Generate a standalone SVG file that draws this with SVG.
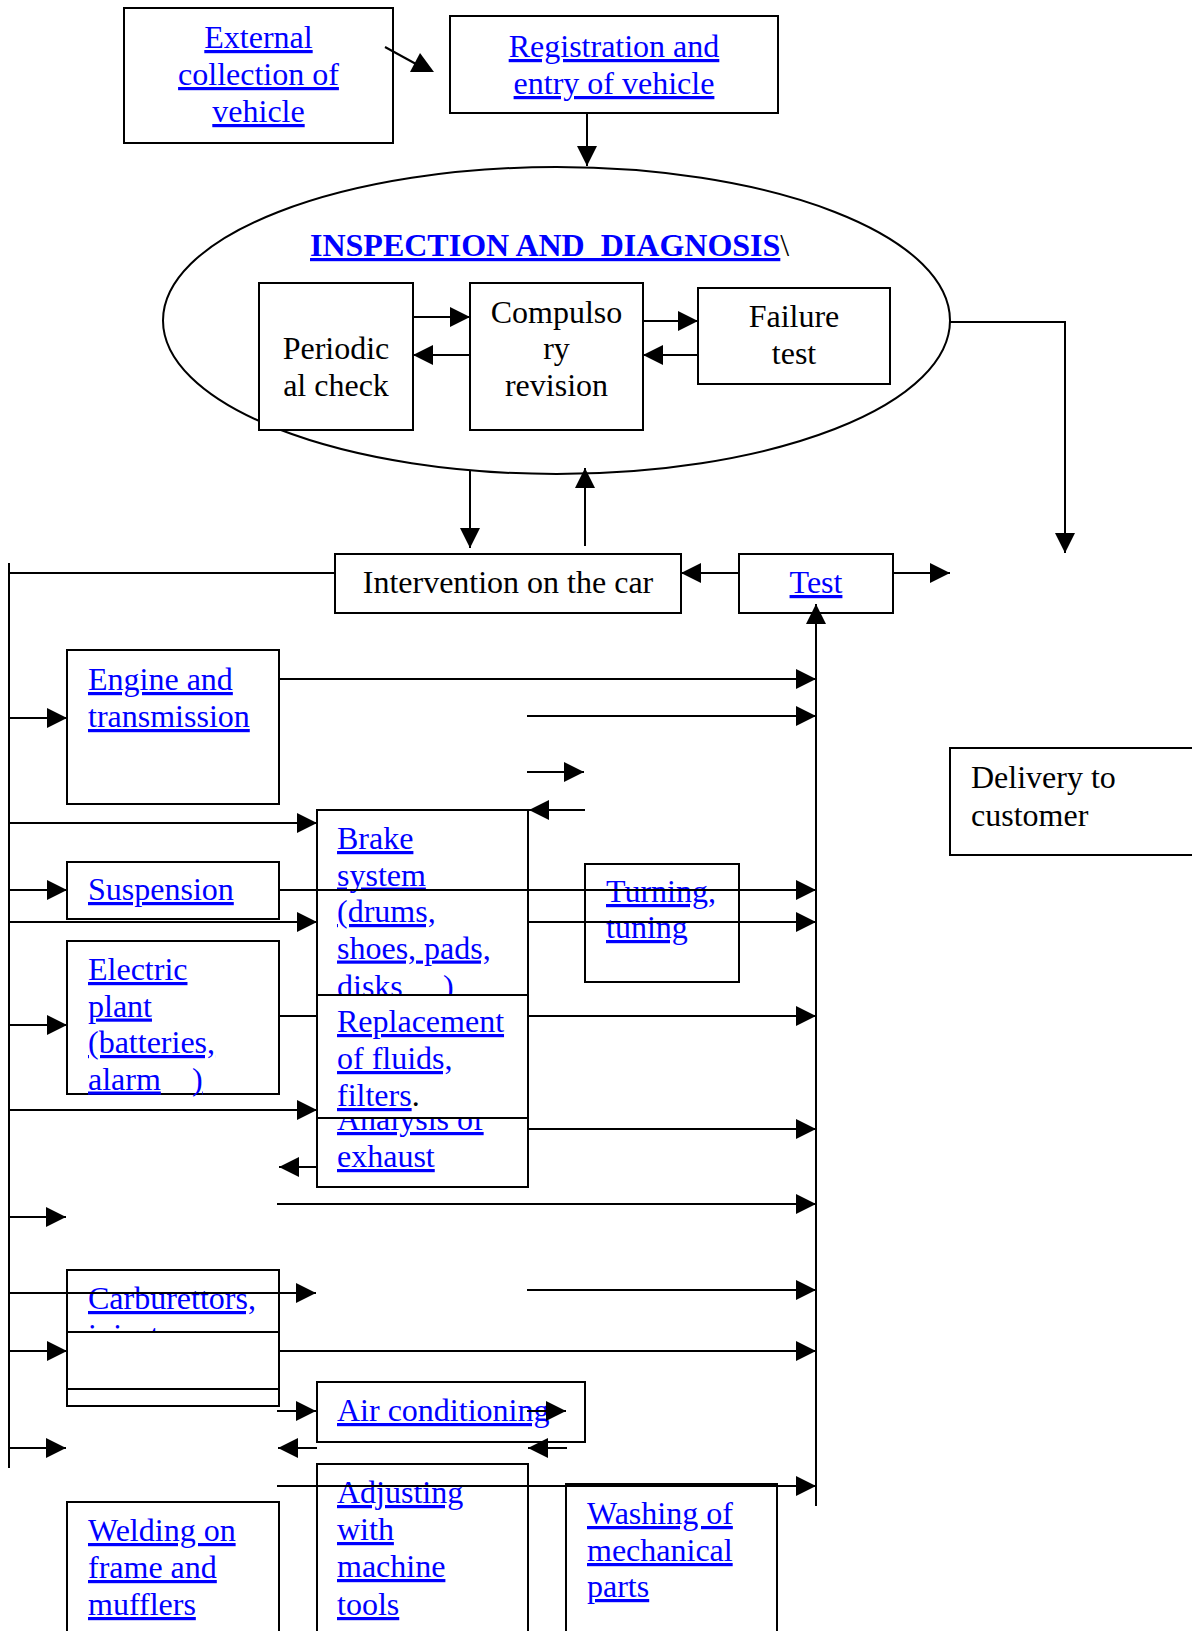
<svg xmlns="http://www.w3.org/2000/svg" width="1192" height="1631" viewBox="0 0 1192 1631">
<style>
.box{fill:#fff;stroke:#000;stroke-width:2}
.t{font-family:"Liberation Serif","Times New Roman",serif;font-size:32px;fill:#000}
.l{font-family:"Liberation Serif","Times New Roman",serif;font-size:32px;fill:#0000ff;text-decoration:underline}
.m{text-anchor:middle}
#connectors line,#connectors polyline{stroke:#000;stroke-width:2;fill:none}
</style>
<defs>
<marker id="ah" markerUnits="userSpaceOnUse" markerWidth="20" markerHeight="20" refX="20" refY="10" orient="auto">
<path d="M0,0 L20,10 L0,20 Z" fill="#000"/>
</marker>
<clipPath id="clipBrake"><rect x="317" y="810" width="211" height="185"/></clipPath>
<clipPath id="clipAnalysis"><rect x="317" y="1118" width="211" height="69"/></clipPath>
<clipPath id="clipCarb"><rect x="67" y="1270" width="212" height="62"/></clipPath>
</defs>
<rect width="1192" height="1631" fill="#fff"/>

<g id="nodes">
<g id="external">
<rect class="box" x="124" y="8" width="269" height="135"/>
<text class="l m" x="258.5" y="48">External</text>
<text class="l m" x="258.5" y="85">collection of</text>
<text class="l m" x="258.5" y="122">vehicle</text>
</g>
<g id="registration">
<rect class="box" x="450" y="16" width="328" height="97"/>
<text class="l m" x="614" y="57">Registration and</text>
<text class="l m" x="614" y="94">entry of vehicle</text>
</g>
<g id="inspection">
<ellipse cx="556.5" cy="320.5" rx="393.5" ry="153.5" fill="#fff" stroke="#000" stroke-width="2"/>
<text x="310" y="256" style="font-family:'Liberation Serif','Times New Roman',serif;font-size:32px;font-weight:bold;white-space:pre"><tspan fill="#0000ff" style="text-decoration:underline">INSPECTION AND  DIAGNOSIS</tspan><tspan fill="#000" style="font-weight:normal">\</tspan></text>
</g>
<g id="periodic">
<rect class="box" x="259" y="283" width="154" height="147"/>
<text class="t m" x="336" y="359">Periodic</text>
<text class="t m" x="336" y="396">al check</text>
</g>
<g id="compulsory">
<rect class="box" x="470" y="283" width="173" height="147"/>
<text class="t m" x="556.5" y="323">Compulso</text>
<text class="t m" x="556.5" y="359">ry</text>
<text class="t m" x="556.5" y="396">revision</text>
</g>
<g id="failure">
<rect class="box" x="698" y="288" width="192" height="96"/>
<text class="t m" x="794" y="327">Failure</text>
<text class="t m" x="794" y="364">test</text>
</g>
<g id="intervention">
<rect class="box" x="335" y="554" width="346" height="59"/>
<text class="t m" x="508" y="593">Intervention on the car</text>
</g>
<g id="test">
<rect class="box" x="739" y="554" width="154" height="59"/>
<text class="l m" x="816" y="593">Test</text>
</g>
<g id="delivery">
<rect class="box" x="950" y="748" width="250" height="107"/>
<text class="t" x="971" y="788">Delivery to</text>
<text class="t" x="971" y="826">customer</text>
</g>
<g id="engine">
<rect class="box" x="67" y="650" width="212" height="154"/>
<text class="l" x="88" y="690">Engine and</text>
<text class="l" x="88" y="727">transmission</text>
</g>
<g id="brake">
<rect class="box" x="317" y="810" width="211" height="200"/>
<g clip-path="url(#clipBrake)">
<text class="l" x="337" y="849">Brake</text>
<text class="l" x="337" y="885.5">system</text>
<text class="l" x="337" y="922">(drums,</text>
<text class="l" x="337" y="958.5">shoes, pads,</text>
<text class="l" x="337" y="997">disks</text>
<text class="l" x="443" y="997">)</text>
</g>
</g>
<g id="suspension">
<rect class="box" x="67" y="862" width="212" height="57"/>
<text class="l" x="88" y="900">Suspension</text>
</g>
<g id="turning">
<rect class="box" x="585" y="864" width="154" height="118"/>
<text class="l" x="606" y="902">Turning,</text>
<text class="l" x="606" y="938">tuning</text>
</g>
<g id="electric">
<rect class="box" x="67" y="941" width="212" height="153"/>
<text class="l" x="88" y="980">Electric</text>
<text class="l" x="88" y="1016.5">plant</text>
<text class="l" x="88" y="1053">(batteries,</text>
<text class="l" x="88" y="1089.5">alarm</text>
<text class="l" x="192" y="1089.5">)</text>
</g>
<g id="analysis">
<rect class="box" x="317" y="1080" width="211" height="107"/>
<g clip-path="url(#clipAnalysis)">
<text class="l" x="337" y="1130">Analysis of</text>
</g>
<text class="l" x="337" y="1167">exhaust</text>
</g>
<g id="replacement">
<rect class="box" x="317" y="995" width="211" height="123"/>
<text class="l" x="337" y="1032">Replacement</text>
<text class="l" x="337" y="1069">of fluids,</text>
<text class="t" x="337" y="1106"><tspan fill="#0000ff" style="text-decoration:underline">filters</tspan>.</text>
</g>
<g id="carburettors">
<rect class="box" x="67" y="1270" width="212" height="136"/>
<g clip-path="url(#clipCarb)">
<text class="l" x="88" y="1309">Carburettors,</text>
<text class="l" x="88" y="1346">injectors,</text>
</g>
<rect class="box" x="67" y="1332" width="212" height="57"/>
</g>
<g id="aircon">
<rect class="box" x="317" y="1382" width="268" height="60"/>
<text class="l" x="337" y="1421">Air conditioning</text>
</g>
<g id="welding">
<rect class="box" x="67" y="1502" width="212" height="140"/>
<text class="l" x="88" y="1541">Welding on</text>
<text class="l" x="88" y="1578">frame and</text>
<text class="l" x="88" y="1615">mufflers</text>
</g>
<g id="adjusting">
<rect class="box" x="317" y="1464" width="211" height="178"/>
<text class="l" x="337" y="1503">Adjusting</text>
<text class="l" x="337" y="1540">with</text>
<text class="l" x="337" y="1577">machine</text>
<text class="l" x="337" y="1615">tools</text>
</g>
<g id="washing">
<rect class="box" x="566" y="1484" width="211" height="158"/>
<text class="l" x="587" y="1524">Washing of</text>
<text class="l" x="587" y="1561">mechanical</text>
<text class="l" x="587" y="1597">parts</text>
</g>
</g>

<g id="connectors">
<line x1="385" y1="47" x2="416" y2="64"/>
<polygon points="420,53 410,72 434,72" fill="#000"/>
<line x1="587" y1="113" x2="587" y2="166" marker-end="url(#ah)"/>
<line x1="413" y1="317" x2="470" y2="317" marker-end="url(#ah)"/>
<line x1="470" y1="355" x2="413" y2="355" marker-end="url(#ah)"/>
<line x1="643" y1="321" x2="698" y2="321" marker-end="url(#ah)"/>
<line x1="698" y1="355" x2="643" y2="355" marker-end="url(#ah)"/>
<line x1="470" y1="470" x2="470" y2="548" marker-end="url(#ah)"/>
<line x1="585" y1="546" x2="585" y2="468" marker-end="url(#ah)"/>
<polyline points="950,322 1065,322 1065,553" marker-end="url(#ah)"/>
<line x1="9" y1="573" x2="335" y2="573"/>
<line x1="9" y1="563" x2="9" y2="1468"/>
<line x1="739" y1="573" x2="681" y2="573" marker-end="url(#ah)"/>
<line x1="893" y1="573" x2="950" y2="573" marker-end="url(#ah)"/>
<line x1="816" y1="1506" x2="816" y2="604" marker-end="url(#ah)"/>
<line x1="9" y1="718" x2="67" y2="718" marker-end="url(#ah)"/>
<line x1="279" y1="679" x2="816" y2="679" marker-end="url(#ah)"/>
<line x1="527" y1="716" x2="816" y2="716" marker-end="url(#ah)"/>
<line x1="527" y1="772" x2="584" y2="772" marker-end="url(#ah)"/>
<line x1="585" y1="810" x2="529" y2="810" marker-end="url(#ah)"/>
<line x1="9" y1="823" x2="317" y2="823" marker-end="url(#ah)"/>
<line x1="9" y1="890" x2="67" y2="890" marker-end="url(#ah)"/>
<line x1="279" y1="890" x2="816" y2="890" marker-end="url(#ah)"/>
<line x1="9" y1="922" x2="317" y2="922" marker-end="url(#ah)"/>
<line x1="528" y1="922" x2="816" y2="922" marker-end="url(#ah)"/>
<line x1="9" y1="1025" x2="67" y2="1025" marker-end="url(#ah)"/>
<line x1="279" y1="1016" x2="317" y2="1016"/>
<line x1="528" y1="1016" x2="816" y2="1016" marker-end="url(#ah)"/>
<line x1="9" y1="1110" x2="317" y2="1110" marker-end="url(#ah)"/>
<line x1="528" y1="1129" x2="816" y2="1129" marker-end="url(#ah)"/>
<line x1="317" y1="1167" x2="279" y2="1167" marker-end="url(#ah)"/>
<line x1="277" y1="1204" x2="816" y2="1204" marker-end="url(#ah)"/>
<line x1="9" y1="1217" x2="66" y2="1217" marker-end="url(#ah)"/>
<line x1="9" y1="1293" x2="316" y2="1293" marker-end="url(#ah)"/>
<line x1="527" y1="1290" x2="816" y2="1290" marker-end="url(#ah)"/>
<line x1="9" y1="1351" x2="67" y2="1351" marker-end="url(#ah)"/>
<line x1="279" y1="1351" x2="816" y2="1351" marker-end="url(#ah)"/>
<line x1="277" y1="1411" x2="316" y2="1411" marker-end="url(#ah)"/>
<line x1="527" y1="1411" x2="566" y2="1411" marker-end="url(#ah)"/>
<line x1="9" y1="1448" x2="66" y2="1448" marker-end="url(#ah)"/>
<line x1="317" y1="1448" x2="278" y2="1448" marker-end="url(#ah)"/>
<line x1="567" y1="1448" x2="528" y2="1448" marker-end="url(#ah)"/>
<line x1="277" y1="1486" x2="816" y2="1486" marker-end="url(#ah)"/>
</g>
</svg>
